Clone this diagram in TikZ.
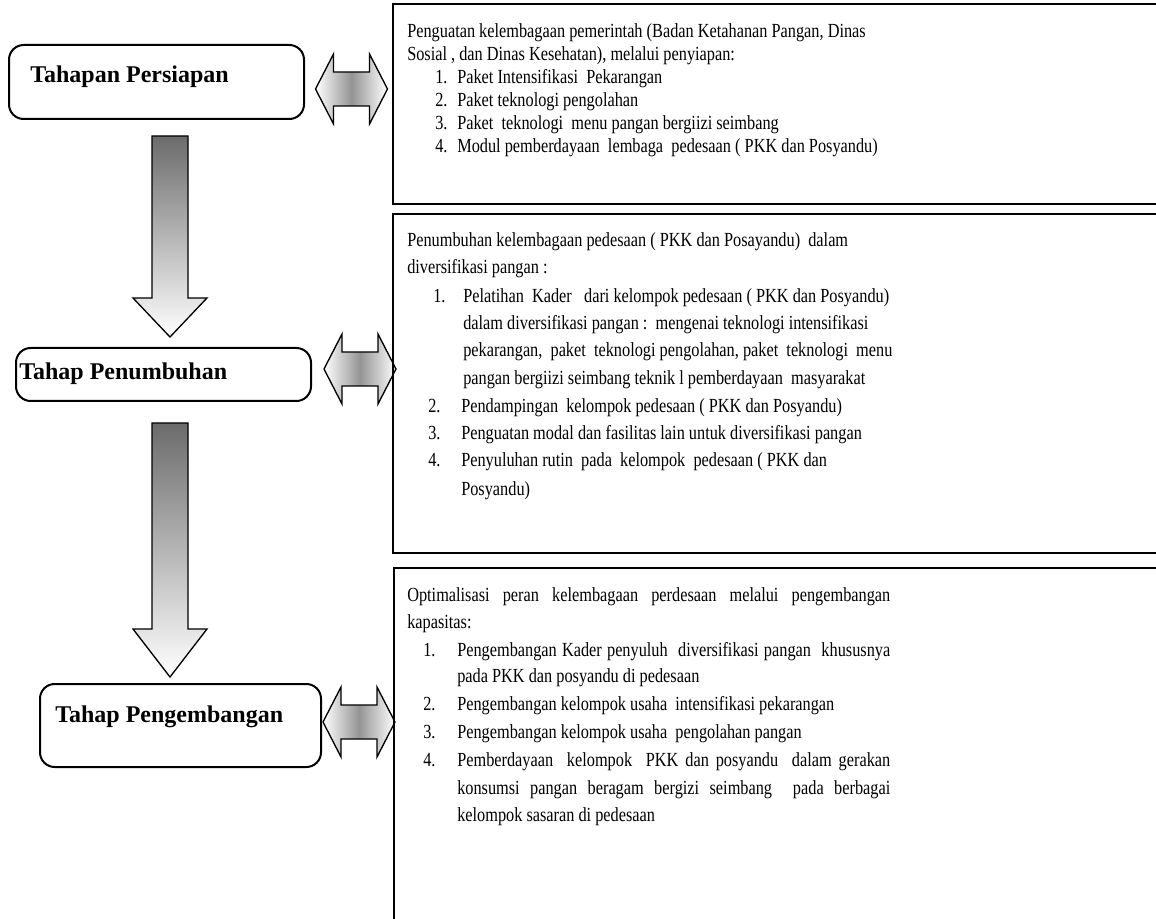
\documentclass[tikz,border=0pt]{standalone}
\usepackage{fontspec}
\setmainfont{Liberation Serif}
\newfontfamily\bodyfont[FakeStretch=0.815]{Liberation Serif}
\newlength\px \setlength\px{0.75pt}
\tikzset{
  txt/.style={anchor=base west, inner sep=0pt, font=\bodyfont\fontsize{15pt}{18pt}\selectfont},
  lab/.style={anchor=base west, inner sep=0pt, font=\fontsize{18pt}{21pt}\selectfont\bfseries},
  stagebox/.style={draw=black, line width=1.5pt, rounded corners=11pt},
  panel/.style={draw=black, line width=1.6pt},
  dblarrow/.style={draw=black, line width=1pt, left color=white, right color=white, middle color=black!42},
  downarrow/.style={draw=black, line width=1pt, top color=black!58, bottom color=white},
  dbl/.pic={\path[dblarrow] (-36,0) -- (-18,-35) -- (-18,-17) -- (18,-17) -- (18,-35) -- (36,0)
     -- (18,35) -- (18,17) -- (-18,17) -- (-18,35) -- cycle;}
}
\begin{document}
\begin{tikzpicture}[x=0.75pt,y=-0.75pt]
\useasboundingbox (0,0) rectangle (1156,919);
\fill[white] (0,0) rectangle (1156,919);
% stage boxes
\draw[stagebox] (9,45) rectangle (304,119);
\node[lab] (s1) at (30,83) {Tahapan Persiapan};
\draw[stagebox] (16,348) rectangle (311,401);
\node[lab] (s2) at (19,380) {Tahap Penumbuhan};
\draw[stagebox] (40,684) rectangle (321,767);
\node[lab] (s3) at (55,722) {Tahap Pengembangan};
% down arrows
\path[downarrow] (152,136) -- (188,136) -- (188,298) -- (207,298) -- (170,337) -- (133,298) -- (152,298) -- cycle;
\path[downarrow] (152,423) -- (188,423) -- (188,629) -- (207,629) -- (170,677) -- (133,629) -- (152,629) -- cycle;
% double arrows
\pic at (351.5,89) {dbl};
\pic at (360,369) {dbl};
\pic at (359,722) {dbl};
% panels
\begin{scope}
\clip (0,0) rectangle (1156,919);
\draw[panel] (1170,4) -- (393,4) -- (393,204) -- (1170,204);
\draw[panel] (1170,214) -- (393,214) -- (393,553) -- (1170,553);
\draw[panel] (1170,568) -- (394,568) -- (394,930);
\end{scope}
% panel A text
\node[txt] (a1) at (407,38) {Penguatan kelembagaan pemerintah (Badan Ketahanan Pangan, Dinas};
\node[txt] (a2) at (407,61) {Sosial , dan Dinas Kesehatan), melalui penyiapan:};
\node[txt] (a3n) at (435,84) {1.};
\node[txt] (a3) at (457,84) {Paket Intensifikasi\ \ Pekarangan};
\node[txt] (a4n) at (435,107) {2.};
\node[txt] (a4) at (457,107) {Paket teknologi pengolahan};
\node[txt] (a5n) at (435,130) {3.};
\node[txt] (a5) at (457,130) {Paket\ \ teknologi\ \ menu pangan bergiizi seimbang};
\node[txt] (a6n) at (435,153) {4.};
\node[txt] (a6) at (457,153) {Modul pemberdayaan\ \ lembaga\ \ pedesaan ( PKK dan Posyandu)};
% panel B text
\node[txt] (b1) at (407,247) {Penumbuhan kelembagaan pedesaan ( PKK dan Posayandu)\ \ dalam};
\node[txt] (b2) at (407,274) {diversifikasi pangan :};
\node[txt] (b3n) at (433,302.7) {1.};
\node[txt] (b3) at (463,302.7) {Pelatihan\ \ Kader\ \ \ dari kelompok pedesaan ( PKK dan Posyandu)};
\node[txt] (b4) at (463,330) {dalam diversifikasi pangan :\ \ mengenai teknologi intensifikasi};
\node[txt] (b5) at (463,356.7) {pekarangan,\ \ paket\ \ teknologi pengolahan, paket\ \ teknologi\ \ menu};
\node[txt] (b6) at (463,385) {pangan bergiizi seimbang teknik l pemberdayaan\ \ masyarakat};
\node[txt] (b7n) at (428,412.7) {2.};
\node[txt] (b7) at (461,412.7) {Pendampingan\ \ kelompok pedesaan ( PKK dan Posyandu)};
\node[txt] (b8n) at (428,440) {3.};
\node[txt] (b8) at (461,440) {Penguatan modal dan fasilitas lain untuk diversifikasi pangan};
\node[txt] (b9n) at (428,467) {4.};
\node[txt] (b9) at (461,467) {Penyuluhan rutin\ \ pada\ \ kelompok\ \ pedesaan ( PKK dan};
\node[txt] (b10) at (461,495) {Posyandu)};
% panel C text
\node[txt] (c1) at (407,601.7) {\makebox[483\px][s]{Optimalisasi peran kelembagaan perdesaan melalui pengembangan}};
\node[txt] (c2) at (407,628) {kapasitas:};
\node[txt] (c3n) at (423,656) {1.};
\node[txt] (c3) at (457,656) {\makebox[433\px][s]{Pengembangan Kader penyuluh\ \ diversifikasi pangan\ \ khususnya}};
\node[txt] (c4) at (457,682.7) {pada PKK dan posyandu di pedesaan};
\node[txt] (c5n) at (423,710.7) {2.};
\node[txt] (c5) at (457,710.7) {Pengembangan kelompok usaha\ \ intensifikasi pekarangan};
\node[txt] (c6n) at (423,738) {3.};
\node[txt] (c6) at (457,738) {Pengembangan kelompok usaha\ \ pengolahan pangan};
\node[txt] (c7n) at (423,766) {4.};
\node[txt] (c7) at (457,766) {\makebox[433\px][s]{Pemberdayaan\ \ kelompok\ \ PKK dan posyandu\ \ dalam gerakan}};
\node[txt] (c8) at (457,794) {\makebox[433\px][s]{konsumsi pangan beragam bergizi seimbang\ \ pada berbagai}};
\node[txt] (c9) at (457,821.7) {kelompok sasaran di pedesaan};
\end{tikzpicture}
\end{document}
